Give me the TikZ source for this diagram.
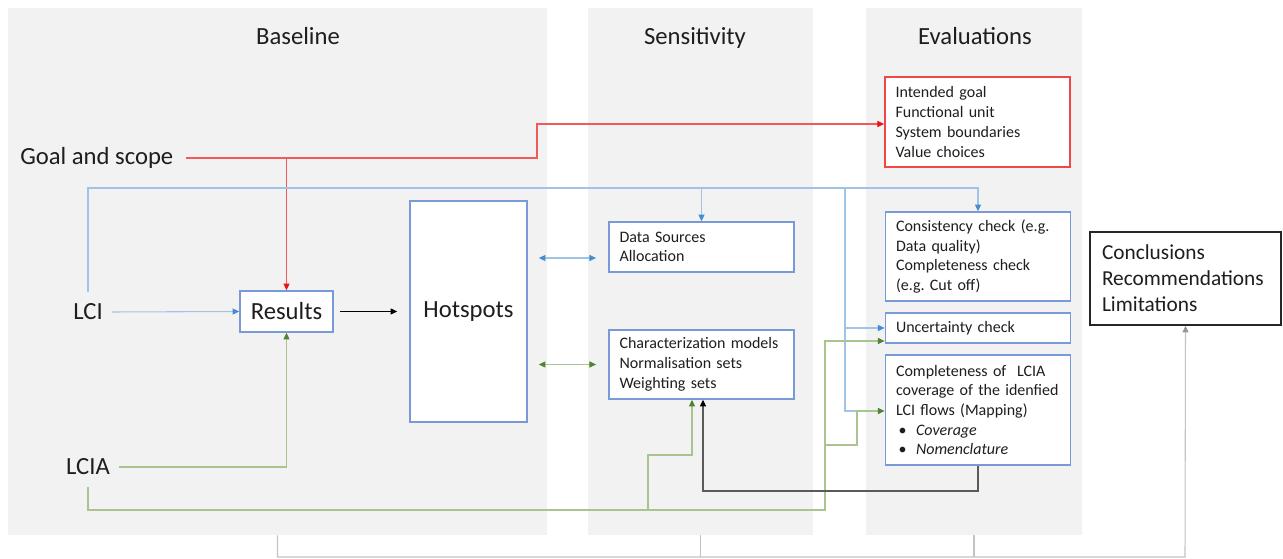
\documentclass[tikz,border=0pt]{standalone}
\usepackage{fontspec}
\setmainfont{Carlito}
\usetikzlibrary{arrows.meta}
\definecolor{panelgray}{RGB}{242,242,242}
\definecolor{txt}{RGB}{30,30,30}
\definecolor{boxblue}{RGB}{120,155,215}
\definecolor{lineblue}{RGB}{160,195,230}
\definecolor{tipblue}{RGB}{70,140,210}
\definecolor{linered}{RGB}{240,90,90}
\definecolor{boxred}{RGB}{240,70,70}
\definecolor{tipred}{RGB}{230,20,20}
\definecolor{linegreen}{RGB}{169,196,143}
\definecolor{tipgreen}{RGB}{84,130,53}
\definecolor{linedark}{RGB}{90,90,90}
\definecolor{linegray}{RGB}{195,195,195}
\definecolor{tipgray}{RGB}{150,150,150}
\begin{document}
\begin{tikzpicture}[x=0.75pt,y=-0.75pt,
  panel/.style={fill=panelgray,draw=none,inner sep=0pt,minimum height=395.25pt},
  ttl/.style={font=\fontsize{18.5}{22}\selectfont,text=txt,anchor=base},
  big/.style={font=\fontsize{18.5}{22}\selectfont,text=txt},
  bbox/.style={draw=boxblue,line width=1.1pt,fill=white,inner sep=0pt,text=txt},
  sbox/.style={bbox,align=left,font=\fontsize{12}{14.8}\selectfont,inner xsep=8pt,text width=123pt,minimum width=139pt},
  conn/.style={line width=0.8pt},
  blueline/.style={conn,draw=lineblue},
  redline/.style={conn,draw=linered},
  greenline/.style={conn,draw=linegreen},
  darkline/.style={conn,draw=linedark},
  grayline/.style={conn,draw=linegray},
  tb/.style={-{Triangle[length=5pt,width=4.5pt,color=tipblue]}},
  tr/.style={-{Triangle[length=5pt,width=4.5pt,color=tipred]}},
  tg/.style={-{Triangle[length=5pt,width=4.5pt,color=tipgreen]}},
  tk/.style={-{Triangle[length=5pt,width=4.5pt,color=black]}},
  tgray/.style={-{Triangle[length=5pt,width=4.5pt,color=tipgray]}},
  tbb/.style={{Triangle[length=5pt,width=4.5pt,color=tipblue]}-{Triangle[length=5pt,width=4.5pt,color=tipblue]}},
  tgg/.style={{Triangle[length=5pt,width=4.5pt,color=tipgreen]}-{Triangle[length=5pt,width=4.5pt,color=tipgreen]}}
]
\useasboundingbox (0,0) rectangle (1283,559);

% panels
\node[panel,minimum width=404.25pt] (basep) at (277.5,271.5) {};
\node[panel,minimum width=168.75pt] (sensp) at (700.5,271.5) {};
\node[panel,minimum width=162pt] (evalp) at (974,271.5) {};
\node[ttl] (t1) at (298,45) {Baseline};
\node[ttl] (t2) at (695,45) {Sensitivity};
\node[ttl] (t3) at (975,45) {Evaluations};

% left labels
\node[big,anchor=west,inner xsep=0pt] (gs) at (20,158) {Goal and scope};
\node[big,inner xsep=7pt,inner ysep=9pt] (lci) at (88,312) {LCI};
\node[big,inner xsep=7pt,inner ysep=9pt] (lcia) at (88,467) {LCIA};

% boxes
\node[bbox,big,minimum width=69.75pt,minimum height=30.75pt] (results) at (286.5,311.5) {Results};
\node[bbox,big,minimum width=87.75pt,minimum height=165.75pt] (hot) at (468.5,311.5) {Hotspots};
\node[sbox,minimum height=37.5pt] (ds) at (701.5,247) {Data Sources\\Allocation};
\node[sbox,minimum height=51.75pt] (cm) at (701.5,364.5) {Characterization models\\Normalisation sets\\Weighting sets};
\node[sbox,draw=boxred,minimum height=67.5pt] (goalbox) at (977.5,122) {Intended goal\\Functional unit\\System boundaries\\Value choices};
\node[sbox,minimum height=66.75pt] (cons) at (978,256.5) {Consistency check (e.g.\\Data quality)\\Completeness check\\(e.g.\ Cut off)};
\node[sbox,minimum height=22.5pt] (unc) at (978,328) {Uncertainty check};
\node[sbox,minimum height=82.5pt] (compl) at (978,410) {Completeness of\ \ LCIA\\coverage of the idenfied\\LCI flows (Mapping)\\\makebox[15pt][l]{\hspace{2pt}\textbullet}\textit{Coverage}\\\makebox[15pt][l]{\hspace{2pt}\textbullet}\textit{Nomenclature}};
\node[draw=black!85,line width=1.2pt,fill=white,align=left,text=txt,font=\fontsize{16}{19.5}\selectfont,inner xsep=9pt,text width=125.25pt,minimum width=143.25pt,minimum height=69.75pt] (concl) at (1185.5,278.5) {Conclusions\\Recommendations\\Limitations};

% coordinates
\coordinate (r1) at (537,158);
\coordinate (r2) at (537,124);
\coordinate (b0) at (88,188);
\coordinate (b2) at (845,188);
\coordinate (b5) at (845,411);
\coordinate (b6) at (857,411);
\coordinate (g2) at (825,510);
\coordinate (g3) at (825,341);
\coordinate (g1) at (648,510);
\coordinate (g4) at (648,455);
\coordinate (g5) at (692,455);
\coordinate (g6) at (825,445);
\coordinate (g7) at (857,445);
\coordinate (k1) at (703,491);
\coordinate (gb) at (1185,557);
\coordinate (da) at (560,258);

% red
\draw[redline,tr,shorten <=9pt] (gs.east) -- (r1) -- (r2) -- (goalbox.west |- r2);
\draw[redline,tr] (results.north |- gs.east) -- (results.north);

% blue
\draw[blueline,tb] (lci.north) -- (b0) -- (cons.north |- b0) -- (cons.north);
\draw[blueline,tb] (ds.north |- b0) -- (ds.north);
\draw[blueline] (b2) -- (b5) -- (b6);
\draw[blueline,tb] (b2 |- unc.west) -- (unc.west);
\draw[blueline,tb] (lci.east) -- (results.west);
\draw[blueline,tbb,shorten <=8.25pt,shorten >=9pt] (hot.east |- da) -- (ds.west |- da);

% black
\draw[conn,draw=black,tk,shorten <=5pt,shorten >=9pt] (results.east) -- (hot.west);

% green
\draw[greenline,tg] (lcia.east) -| (results.south);
\draw[greenline,tg] (lcia.south) |- (g2) -- (g3) -- (unc.west |- g3);
\draw[greenline,tg] (g1) -- (g4) -- (g5) -- (g5 |- cm.south);
\draw[greenline,tg] (g6) -- (g7) -- (b6) -- (compl.west |- b6);
\draw[greenline,tgg,shorten <=8.25pt,shorten >=9pt] (hot.east |- cm.west) -- (cm.west);

% dark gray
\draw[darkline,tk] (compl.south) |- (k1) -- (k1 |- cm.south);

% bottom gray
\draw[grayline,tgray] (basep.south) |- (gb) -- (concl.south);
\draw[grayline] (sensp.south) -- (sensp.south |- gb);
\draw[grayline] (evalp.south) -- (evalp.south |- gb);
\end{tikzpicture}
\end{document}
